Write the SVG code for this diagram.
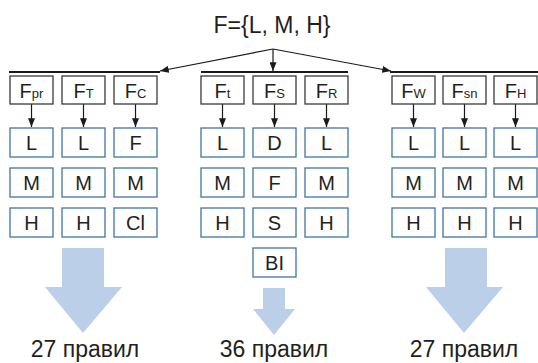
<svg xmlns="http://www.w3.org/2000/svg" width="538" height="363" viewBox="0 0 538 363">
<defs>
<marker id="ah" viewBox="0 0 10 8" refX="10" refY="4" markerWidth="9" markerHeight="7" markerUnits="userSpaceOnUse" orient="auto">
<path d="M0,0 L10,4 L0,8 Z" fill="#1a1a1a"/>
</marker>
<style>
text{font-family:"Liberation Sans",Arial,sans-serif;fill:#231f20;text-anchor:middle}
.f rect{fill:#fff;stroke:#3a3a3a;stroke-width:1.3}
.b rect{fill:#fff;stroke:#3f74a6;stroke-width:1.3}
.f text,.b text{font-size:20px}
.sub{font-size:13px}
.bar{stroke:#1a1a1a;stroke-width:2.2}
.con{stroke:#1a1a1a;stroke-width:1.2;fill:none;marker-end:url(#ah)}
.big{fill:#bccfe8}
.lbl{font-size:23px}
</style>
</defs>
<rect width="538" height="363" fill="#fff"/>
<text id="title" x="272" y="33" font-size="23">F={L, M, H}</text>

<g id="connectors">
<line class="bar" x1="9" y1="72" x2="160" y2="72"/>
<line class="bar" x1="201" y1="72" x2="348" y2="72"/>
<line class="bar" x1="390" y1="72" x2="538" y2="72"/>
<line class="con" x1="273" y1="49" x2="160" y2="71"/>
<line class="con" x1="273" y1="49" x2="273" y2="71"/>
<line class="con" x1="273" y1="49" x2="391" y2="71"/>
<line class="con" x1="31.5" y1="104" x2="31.5" y2="127"/>
<line class="con" x1="83.5" y1="104" x2="83.5" y2="127"/>
<line class="con" x1="135.5" y1="104" x2="135.5" y2="127"/>
<line class="con" x1="222.5" y1="104" x2="222.5" y2="127"/>
<line class="con" x1="274.5" y1="104" x2="274.5" y2="127"/>
<line class="con" x1="326.5" y1="104" x2="326.5" y2="127"/>
<line class="con" x1="413.5" y1="104" x2="413.5" y2="127"/>
<line class="con" x1="464.5" y1="104" x2="464.5" y2="127"/>
<line class="con" x1="515.5" y1="104" x2="515.5" y2="127"/>
</g>

<g id="Fpr" class="f"><rect x="10" y="76" width="43" height="28"/><text x="31.5" y="97.5">F<tspan class="sub">pr</tspan></text></g>
<g id="FT" class="f"><rect x="62" y="76" width="43" height="28"/><text x="83.5" y="97.5">F<tspan class="sub">T</tspan></text></g>
<g id="FC" class="f"><rect x="114" y="76" width="43" height="28"/><text x="135.5" y="97.5">F<tspan class="sub">C</tspan></text></g>
<g id="Ft" class="f"><rect x="201" y="76" width="43" height="28"/><text x="222.5" y="97.5">F<tspan class="sub">t</tspan></text></g>
<g id="FS" class="f"><rect x="253" y="76" width="43" height="28"/><text x="274.5" y="97.5">F<tspan class="sub">S</tspan></text></g>
<g id="FR" class="f"><rect x="305" y="76" width="43" height="28"/><text x="326.5" y="97.5">F<tspan class="sub">R</tspan></text></g>
<g id="FW" class="f"><rect x="392" y="76" width="43" height="28"/><text x="413.5" y="97.5">F<tspan class="sub">W</tspan></text></g>
<g id="Fsn" class="f"><rect x="443" y="76" width="43" height="28"/><text x="464.5" y="97.5">F<tspan class="sub">sn</tspan></text></g>
<g id="FH" class="f"><rect x="494" y="76" width="43" height="28"/><text x="515.5" y="97.5">F<tspan class="sub">H</tspan></text></g>

<g id="c1" class="b">
<rect x="10" y="128" width="43" height="29"/><text x="31.5" y="150">L</text>
<rect x="10" y="168" width="43" height="29"/><text x="31.5" y="190">M</text>
<rect x="10" y="208" width="43" height="29"/><text x="31.5" y="230">H</text>
</g>
<g id="c2" class="b">
<rect x="62" y="128" width="43" height="29"/><text x="83.5" y="150">L</text>
<rect x="62" y="168" width="43" height="29"/><text x="83.5" y="190">M</text>
<rect x="62" y="208" width="43" height="29"/><text x="83.5" y="230">H</text>
</g>
<g id="c3" class="b">
<rect x="114" y="128" width="43" height="29"/><text x="135.5" y="150">F</text>
<rect x="114" y="168" width="43" height="29"/><text x="135.5" y="190">M</text>
<rect x="114" y="208" width="43" height="29"/><text x="135.5" y="230">Cl</text>
</g>
<g id="c4" class="b">
<rect x="201" y="128" width="43" height="29"/><text x="222.5" y="150">L</text>
<rect x="201" y="168" width="43" height="29"/><text x="222.5" y="190">M</text>
<rect x="201" y="208" width="43" height="29"/><text x="222.5" y="230">H</text>
</g>
<g id="c5" class="b">
<rect x="253" y="128" width="43" height="29"/><text x="274.5" y="150">D</text>
<rect x="253" y="168" width="43" height="29"/><text x="274.5" y="190">F</text>
<rect x="253" y="208" width="43" height="29"/><text x="274.5" y="230">S</text>
<rect x="253" y="248" width="43" height="29"/><text x="274.5" y="270">BI</text>
</g>
<g id="c6" class="b">
<rect x="305" y="128" width="43" height="29"/><text x="326.5" y="150">L</text>
<rect x="305" y="168" width="43" height="29"/><text x="326.5" y="190">M</text>
<rect x="305" y="208" width="43" height="29"/><text x="326.5" y="230">H</text>
</g>
<g id="c7" class="b">
<rect x="392" y="128" width="43" height="29"/><text x="413.5" y="150">L</text>
<rect x="392" y="168" width="43" height="29"/><text x="413.5" y="190">M</text>
<rect x="392" y="208" width="43" height="29"/><text x="413.5" y="230">H</text>
</g>
<g id="c8" class="b">
<rect x="443" y="128" width="43" height="29"/><text x="464.5" y="150">L</text>
<rect x="443" y="168" width="43" height="29"/><text x="464.5" y="190">M</text>
<rect x="443" y="208" width="43" height="29"/><text x="464.5" y="230">H</text>
</g>
<g id="c9" class="b">
<rect x="494" y="128" width="43" height="29"/><text x="515.5" y="150">L</text>
<rect x="494" y="168" width="43" height="29"/><text x="515.5" y="190">M</text>
<rect x="494" y="208" width="43" height="29"/><text x="515.5" y="230">H</text>
</g>

<g id="out1">
<path class="big" d="M62,248 H104 V287 H122 L83,333 L45,287 H62 Z"/>
<text class="lbl" x="85" y="357">27 правил</text>
</g>
<g id="out2">
<path class="big" d="M263,288 H285 V309 H295 L274,335 L253,309 H263 Z"/>
<text class="lbl" x="274" y="357">36 правил</text>
</g>
<g id="out3">
<path class="big" d="M445,248 H487 V287 H503 L464,333 L426,287 H445 Z"/>
<text class="lbl" x="464" y="357">27 правил</text>
</g>
</svg>
